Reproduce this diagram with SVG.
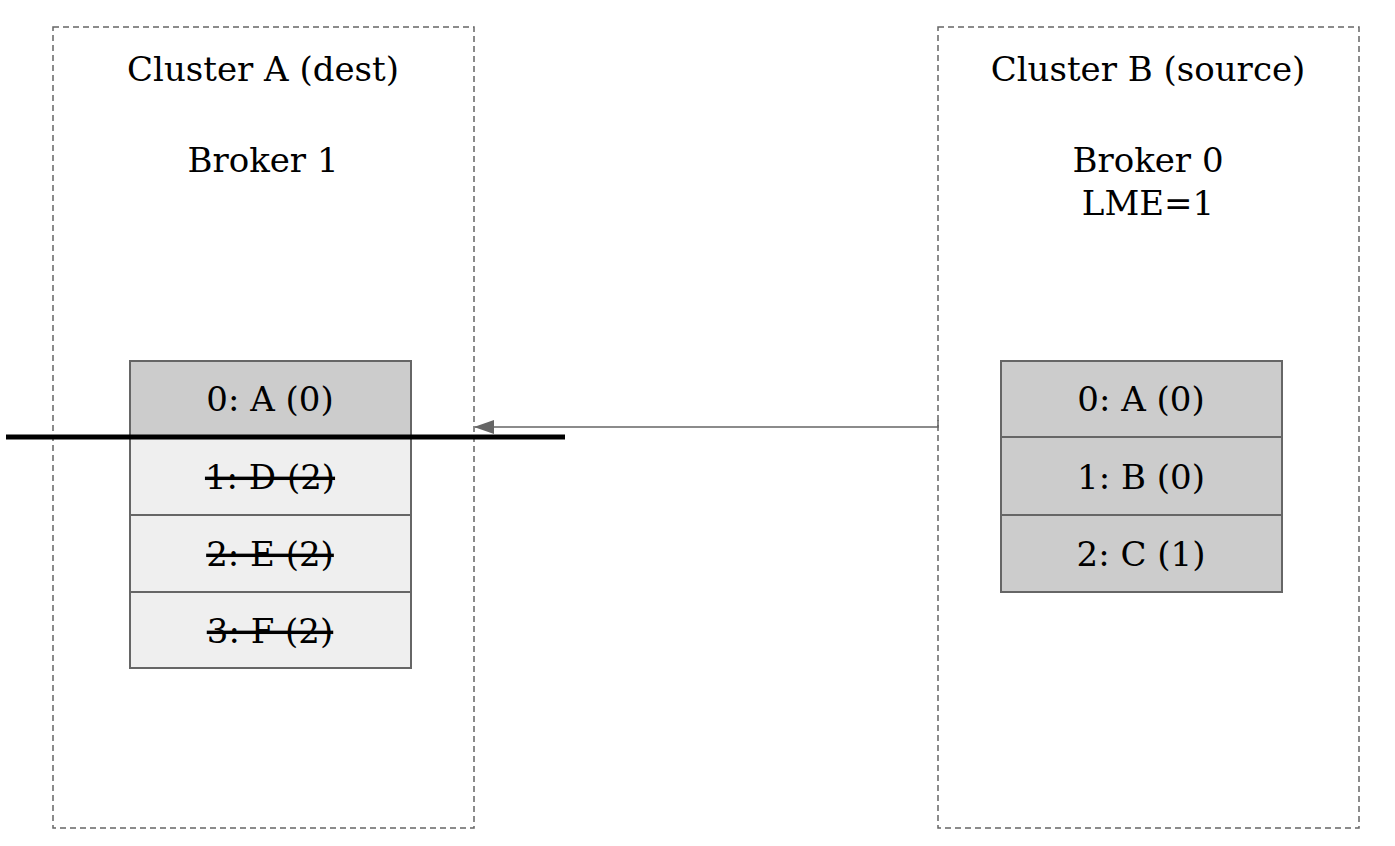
<svg xmlns="http://www.w3.org/2000/svg" width="1395" height="846" viewBox="0 0 1395 846">
<style>
.cluster{fill:none;stroke:#666;stroke-width:1.5;stroke-dasharray:6,4}
.t{font-family:"DejaVu Serif","Liberation Serif",serif;font-size:34px;fill:#000;text-anchor:middle}
.dark{fill:#ccc;stroke:#666;stroke-width:2}
.light{fill:#efefef;stroke:#666;stroke-width:2}
.strike{text-decoration:line-through}
</style>
<defs>
<marker id="ah" markerWidth="20" markerHeight="14" refX="19" refY="7" orient="auto" markerUnits="userSpaceOnUse">
<path d="M0,0 L20,7 L0,14 Z" fill="#666"/>
</marker>
</defs>
<g id="clusterA">
<rect class="cluster" x="53" y="27" width="421" height="801"/>
<text class="t" x="263" y="81">Cluster A (dest)</text>
<text class="t" x="263" y="172">Broker 1</text>
</g>
<g id="clusterB">
<rect class="cluster" x="938" y="27" width="421" height="801"/>
<text class="t" x="1148" y="81">Cluster B (source)</text>
<text class="t" x="1148" y="172">Broker 0</text>
<text class="t" x="1148" y="215">LME=1</text>
</g>
<g id="logA">
<rect class="dark" x="130" y="361" width="281" height="76"/>
<text class="t" x="270" y="411">0: A (0)</text>
<rect class="light" x="130" y="437" width="281" height="78"/>
<text class="t strike" x="270" y="489">1: D (2)</text>
<rect class="light" x="130" y="515" width="281" height="77"/>
<text class="t strike" x="270" y="566">2: E (2)</text>
<rect class="light" x="130" y="592" width="281" height="76"/>
<text class="t strike" x="270" y="643">3: F (2)</text>
</g>
<g id="logB">
<rect class="dark" x="1001" y="361" width="281" height="76"/>
<text class="t" x="1141" y="411">0: A (0)</text>
<rect class="dark" x="1001" y="437" width="281" height="78"/>
<text class="t" x="1141" y="489">1: B (0)</text>
<rect class="dark" x="1001" y="515" width="281" height="77"/>
<text class="t" x="1141" y="566">2: C (1)</text>
</g>
<g id="connectors">
<path d="M938,420 L938,427 L475,427" fill="none" stroke="#666" stroke-width="1.5" marker-end="url(#ah)"/>
<line id="truncation" x1="6" y1="437" x2="565" y2="437" stroke="#000" stroke-width="5"/>
</g>
</svg>
